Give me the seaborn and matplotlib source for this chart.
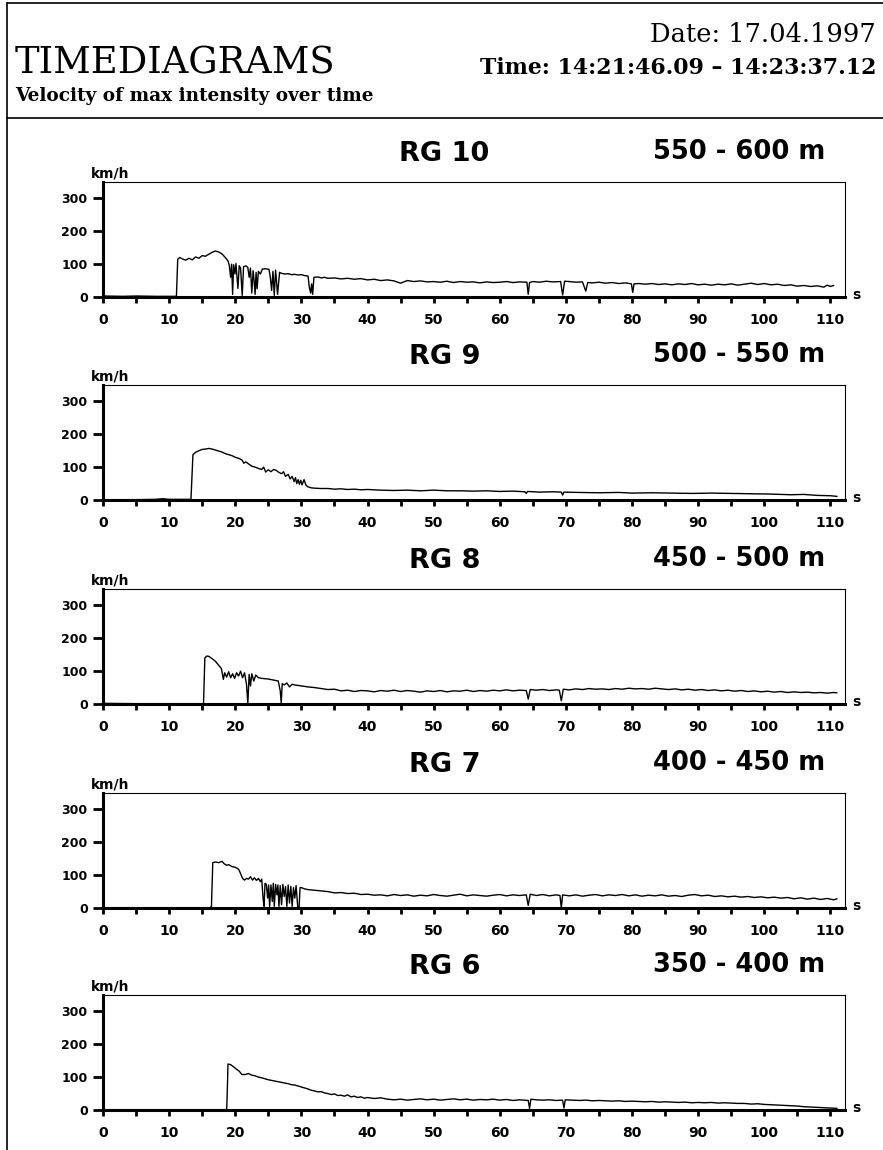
import matplotlib
matplotlib.use("Agg")
import matplotlib.pyplot as plt
import seaborn as sns
from matplotlib.lines import Line2D
from matplotlib.ticker import MultipleLocator

# Range gate labels
gates = ["RG 10", "RG 9", "RG 8", "RG 7", "RG 6"]
ranges = ["550 - 600 m", "500 - 550 m", "450 - 500 m", "400 - 450 m", "350 - 400 m"]
x_ticks = [0, 10, 20, 30, 40, 50, 60, 70, 80, 90, 100, 110]
y_ticks = [0, 100, 200, 300]

# RG 10 (time s, velocity km/h)
rg10_t = [0, 0.15, 3, 5, 8, 11.1, 11.3, 11.6, 12.0, 12.5, 13.0, 13.5, 14.0, 14.5, 15.0, 15.5, 16.0,
          16.5, 17.0, 17.5, 18.0, 18.5, 18.9, 19.1, 19.3, 19.45, 19.6, 19.75, 19.95, 20.1, 20.4, 20.6,
          20.8, 21.05, 21.25, 21.6, 21.9, 22.1, 22.3, 22.5, 22.7, 22.85, 23.0, 23.15, 23.3, 23.5, 23.8,
          24.1, 24.6, 25.1, 25.3, 25.5, 25.7, 25.9, 26.1, 26.4, 26.7, 27.0, 27.5, 28.0, 28.5, 29.0,
          29.5, 30.0, 30.5, 31.0, 31.2, 31.4, 31.55, 31.7, 31.9, 32.5, 33, 33.5, 34, 35, 36, 37, 38, 39,
          40, 41, 42, 43, 44, 45, 46, 47, 48, 49, 50, 51, 52, 53, 54, 55, 56, 57, 58, 59, 60, 61, 62,
          63, 64.1, 64.3, 64.5, 65, 66, 67, 68, 69.2, 69.5, 69.8, 70.5, 71.5, 72.5, 73.0, 73.3, 74, 75,
          76, 77, 78, 79, 79.9, 80.1, 80.3, 81, 82, 83, 84, 85, 86, 87, 88, 89, 90, 91, 92, 93, 94, 95,
          96, 97, 98, 99, 100, 101, 102, 103, 104, 105, 106, 107, 108, 109, 109.5, 110, 110.5]
rg10_v = [290, 3, 2, 3, 2, 2, 115, 120, 116, 112, 118, 113, 122, 118, 126, 124, 130,
          136, 140, 137, 131, 120, 110, 96, 60, 100, 8, 98, 70, 102, 26, 95,
          88, 5, 92, 95, 90, 60, 88, 12, 80, 50, 8, 75, 25, 78, 70,
          85, 86, 84, 60, 20, 78, 5, 82, 8, 75, 72, 70, 71, 68, 69,
          67, 68, 65, 64, 30, 12, 40, 8, 60, 61, 58, 60, 57, 58, 55, 57, 54, 56,
          52, 54, 50, 52, 49, 42, 50, 47, 49, 46, 47, 45, 48, 44, 47, 45, 46, 43, 46, 44, 45, 47, 44,
          46, 45, 8, 44, 47, 45, 48, 46, 47, 6, 48, 47, 45, 46, 18, 44, 43, 45,
          42, 44, 41, 43, 40, 14, 40, 41, 39, 41, 38, 40, 37, 40, 38, 41, 37, 39, 36, 39, 37, 40,
          36, 39, 42, 38, 41, 37, 39, 35, 37, 33, 35, 32, 34, 30, 36, 32, 35]

# RG 9
rg9_t = [0, 5, 8, 9, 10, 12, 13.3, 13.6, 14.0, 14.5, 15.0, 15.5, 16.0, 16.5, 17.0, 17.5, 18.0,
         18.5, 19.0, 19.5, 20.0, 20.5, 21.0, 21.3, 21.6, 22.0, 22.5, 23.0, 23.5, 24.0, 24.3, 24.6,
         25.0, 25.4, 25.8, 26.2, 26.6, 27.0, 27.3, 27.6, 28.0, 28.3, 28.6, 28.9, 29.1, 29.3, 29.5,
         29.7, 29.9, 30.1, 30.4, 30.7, 31.0, 31.5, 32, 33, 34, 35, 36, 37, 38, 39, 40, 42, 44, 46, 48,
         50, 52, 54, 56, 58, 60, 62, 63.8, 64.0, 64.2, 66, 68, 69.3, 69.5, 69.7, 72, 75, 78, 80, 83,
         86, 89, 92, 95, 98, 101, 104, 106, 108, 110, 111]
rg9_v = [1, 1, 2, 4, 2, 2, 2, 138, 145, 150, 154, 155, 157, 155, 152, 149, 146,
         141, 138, 135, 130, 127, 122, 112, 116, 110, 103, 100, 96, 93, 100, 85,
         92, 86, 93, 90, 84, 80, 86, 72, 78, 64, 72, 56, 68, 50, 62,
         48, 60, 46, 62, 45, 40, 37, 36, 35, 35, 33, 34, 32, 33, 31, 32, 30, 29, 30, 28,
         30, 28, 28, 27, 28, 26, 27, 25, 20, 26, 24, 25, 24, 15, 24, 23, 22, 23, 21, 22,
         21, 20, 21, 20, 19, 18, 16, 17, 14, 13, 11]

# RG 8
rg8_t = [0, 0.15, 5, 10, 15.2, 15.4, 15.7, 16.0, 16.5, 17.0, 17.5, 17.9, 18.2, 18.4, 18.7, 19.0,
         19.3, 19.6, 19.9, 20.2, 20.5, 20.8, 21.1, 21.4, 21.7, 21.9, 22.1, 22.3, 22.5, 22.8, 23.1,
         23.5, 24.0, 24.5, 25.0, 25.5, 26.0, 26.5, 26.8, 26.95, 27.1, 27.4, 27.8, 28.2, 28.6, 29, 30,
         31, 32, 33, 34, 35, 36, 37, 38, 39, 40, 41, 42, 43, 44, 45, 46, 47, 48, 49, 50, 51, 52, 53,
         54, 55, 56, 57, 58, 59, 60, 61, 62, 63, 64.0, 64.3, 64.6, 65.5, 66.5, 67.5, 68.5, 69.0, 69.3,
         69.6, 70.5, 71.5, 72.5, 73.5, 74.5, 75.5, 76.5, 77.5, 78.5, 79.5, 80.5, 81.5, 82.5, 83.5,
         84.5, 85.5, 86.5, 87.5, 88.5, 89.5, 90.5, 91.5, 92.5, 93.5, 94.5, 95.5, 96.5, 97.5, 98.5,
         99.5, 100.5, 101.5, 102.5, 103.5, 104.5, 105.5, 106.5, 107.5, 108.5, 109.5, 110.5, 111]
rg8_v = [350, 2, 1, 1, 1, 140, 146, 145, 138, 130, 118, 108, 75, 95, 82, 98,
         80, 92, 78, 95, 85, 100, 80, 95, 60, 2, 90, 55, 92, 70, 88,
         80, 78, 77, 76, 74, 72, 70, 40, 2, 62, 58, 64, 52, 60, 58, 55,
         52, 50, 47, 44, 45, 40, 42, 38, 41, 40, 37, 41, 39, 42, 38, 41, 39, 36, 40, 38, 41, 37, 40,
         39, 42, 38, 41, 39, 42, 40, 43, 40, 42, 41, 15, 44, 42, 44, 41, 43, 42, 10,
         45, 43, 46, 44, 47, 45, 46, 44, 47, 45, 48, 46, 47, 45, 48,
         46, 44, 46, 43, 45, 42, 44, 41, 43, 40, 42, 39, 41, 38, 40,
         37, 39, 36, 38, 35, 37, 35, 36, 34, 35, 33, 35, 34]

# RG 7
rg7_t = [0, 10, 16.2, 16.4, 16.6, 17.0, 17.5, 18.0, 18.3, 18.7, 19.0, 19.5, 20.0, 20.5, 20.8, 21.1,
         21.4, 21.7, 22.0, 22.3, 22.6, 22.9, 23.2, 23.5, 23.8, 24.0, 24.2, 24.35, 24.5, 24.7, 24.9,
         25.05, 25.2, 25.4, 25.6, 25.75, 25.9, 26.1, 26.3, 26.45, 26.6, 26.8, 27.0, 27.2, 27.4, 27.6,
         27.8, 28.0, 28.2, 28.4, 28.6, 28.8, 29.0, 29.2, 29.45, 29.65, 29.8, 30.0, 30.5, 31, 32, 33,
         34, 35, 36, 37, 38, 39, 40, 41, 42, 43, 44, 45, 46, 47, 48, 49, 50, 51, 52, 53, 54, 55, 56,
         57, 58, 59, 60, 61, 62, 63, 64.0, 64.3, 64.6, 65.5, 66.5, 67.5, 68.5, 69.1, 69.3, 69.5, 70.5,
         71.5, 72.5, 73.5, 74.5, 75.5, 76.5, 77.5, 78.5, 79.5, 80.5, 81.5, 82.5, 83.5, 84.5, 85.5,
         86.5, 87.5, 88.5, 89.5, 90.5, 91.5, 92.5, 93.5, 94.5, 95.5, 96.5, 97.5, 98.5, 99.5, 100.5,
         101.5, 102.5, 103.5, 104.5, 105.5, 106.5, 107.5, 108.5, 109.5, 110.5, 111]
rg7_v = [1, 1, 1, 5, 138, 140, 138, 142, 135, 130, 132, 126, 124, 118, 105, 90,
         85, 90, 88, 95, 85, 92, 84, 90, 80, 88, 30, 5, 75, 72, 30,
         70, 5, 70, 20, 75, 5, 72, 40, 70, 5, 68, 10, 72, 35, 65,
         5, 70, 15, 66, 5, 62, 30, 68, 2, 2, 62, 62, 58, 56, 54, 52,
         50, 46, 47, 44, 45, 41, 42, 39, 40, 37, 41, 38, 40, 36, 39, 37, 41, 38, 36, 39, 42, 37, 40,
         38, 36, 39, 41, 37, 40, 38, 40, 8, 42, 38, 41, 37, 40, 38, 0, 40, 37,
         40, 36, 39, 41, 37, 40, 38, 41, 37, 40, 36, 39, 37, 40, 36,
         38, 35, 39, 41, 37, 39, 35, 37, 34, 36, 33, 35, 32, 34, 31,
         33, 30, 32, 28, 31, 27, 30, 26, 29, 25, 28]

# RG 6
rg6_t = [0, 0.15, 5, 10, 15, 18.7, 18.8, 18.9, 19.3, 19.7, 20.2, 20.6, 21.0, 21.5, 22.0, 22.5,
         23.0, 23.5, 24.0, 24.5, 25.0, 25.5, 26.0, 26.5, 27.0, 27.5, 28.0, 28.5, 29.0, 29.5, 30.0,
         30.5, 31.0, 31.5, 32.0, 32.5, 33.0, 33.5, 34.0, 34.5, 35.0, 35.5, 36.0, 36.5, 37.0, 37.5,
         38, 38.5, 39, 39.5, 40, 41, 42, 43, 44, 45, 46, 47, 48, 49, 50, 51, 52, 53, 54, 55, 56, 57,
         58, 59, 60, 61, 62, 63, 64.3, 64.5, 64.7, 65.5, 66.5, 67.5, 68.5, 69.5, 69.7, 69.9, 71, 72,
         73, 74, 75, 76, 77, 78, 79, 80, 81, 82, 83, 84, 85, 86, 87, 88, 89, 90, 91, 92, 93, 94, 95,
         96, 97, 98, 99, 100, 101, 102, 103, 104, 105, 106, 107, 108, 109, 110, 111]
rg6_v = [250, 1, 1, 1, 1, 1, 60, 140, 138, 132, 124, 118, 108, 108, 111, 106,
         104, 100, 98, 95, 92, 90, 88, 86, 84, 82, 80, 77, 76, 73, 70,
         67, 64, 60, 58, 55, 56, 52, 50, 47, 49, 44, 45, 42, 46, 40,
         42, 38, 40, 36, 38, 35, 37, 33, 31, 33, 30, 32, 34, 31, 33, 30, 32, 34, 31, 33, 30, 32,
         31, 33, 30, 32, 29, 31, 29, 5, 33, 31, 30, 31, 29, 30, 6, 31, 30, 29,
         30, 28, 29, 28, 27, 28, 26, 27, 26, 25, 26, 24, 25, 24, 23, 24, 22, 23, 22, 23, 21, 22, 21,
         20, 20, 18, 19, 17, 16, 15, 14, 13, 12, 10, 9, 8, 7, 6, 5]

series = [(rg10_t, rg10_v), (rg9_t, rg9_v), (rg8_t, rg8_v), (rg7_t, rg7_v), (rg6_t, rg6_v)]

sns.set_style("ticks")
plt.rcParams["font.family"] = ["DejaVu Sans"]
plt.rcParams.update({"text.color": "black", "axes.edgecolor": "black",
                     "xtick.color": "black", "ytick.color": "black",
                     "axes.labelcolor": "black"})

W, H = 883, 1150
fig = plt.figure(figsize=(W / 100, H / 100), dpi=100)

# panel frames in pixels: zero line y and axes height
zero_y = [297, 500, 704, 908, 1110]
left_px, right_px, height_px = 103, 845, 115

for i, (t, v) in enumerate(series):
    bottom = 1 - zero_y[i] / H
    ax = fig.add_axes([left_px / W, bottom, (right_px - left_px) / W, height_px / H])
    sns.lineplot(x=t, y=v, ax=ax, color="black", linewidth=1.0, estimator=None)
    ax.set_xlim(0, 112.2)
    ax.set_ylim(0, 350)
    ax.set_xticks(x_ticks)
    ax.xaxis.set_minor_locator(MultipleLocator(5))
    ax.set_yticks(y_ticks)
    ax.tick_params(axis="x", which="both", direction="out", length=4.5, width=2, pad=7,
                   labelsize=10)
    ax.tick_params(axis="y", direction="out", length=7, width=2, pad=4, labelsize=9)
    for lab in ax.get_xticklabels() + ax.get_yticklabels():
        lab.set_fontweight("bold")
    ax.spines["left"].set_linewidth(2.2)
    ax.spines["bottom"].set_linewidth(2.2)
    ax.spines["top"].set_linewidth(0.8)
    ax.spines["right"].set_linewidth(0.8)
    ax.set_xlabel("")
    ax.set_ylabel("")
    ax.text(0.0094, 1.075, "km/h", transform=ax.transAxes, ha="center", va="center",
            fontsize=10, fontweight="bold")
    ax.text(1.015, 0.02, "s", transform=ax.transAxes, ha="center", va="center",
            fontsize=10, fontweight="bold")
    ax.text(0.46, 1.24, gates[i], transform=ax.transAxes, ha="center", va="center",
            fontsize=19.5, fontweight="bold")
    ax.text(0.973, 1.265, ranges[i], transform=ax.transAxes, ha="right", va="center",
            fontsize=18.5, fontweight="bold")

# header block
fig.text(876 / W, 1 - 35 / H, "Date: 17.04.1997", ha="right", va="center",
         family="DejaVu Serif", fontsize=18.5)
fig.text(15 / W, 1 - 63 / H, "TIMEDIAGRAMS", ha="left", va="center",
         family="DejaVu Serif", fontsize=26.5)
fig.text(876 / W, 1 - 68 / H, "Time: 14:21:46.09 \u2013 14:23:37.12", ha="right", va="center",
         family="DejaVu Serif", fontweight="bold", fontsize=15.8)
fig.text(15 / W, 1 - 96 / H, "Velocity of max intensity over time", ha="left", va="center",
         family="DejaVu Serif", fontweight="bold", fontsize=13.3)

# page frame lines
fig.add_artist(Line2D([7 / W, 1], [1 - 3 / H, 1 - 3 / H], color="black", lw=1.2,
                      transform=fig.transFigure))
fig.add_artist(Line2D([7 / W, 1], [1 - 118 / H, 1 - 118 / H], color="black", lw=1.2,
                      transform=fig.transFigure))
fig.add_artist(Line2D([7 / W, 7 / W], [0, 1 - 3 / H], color="black", lw=1.2,
                      transform=fig.transFigure))

fig.savefig("out.png", dpi=100, facecolor="white")
